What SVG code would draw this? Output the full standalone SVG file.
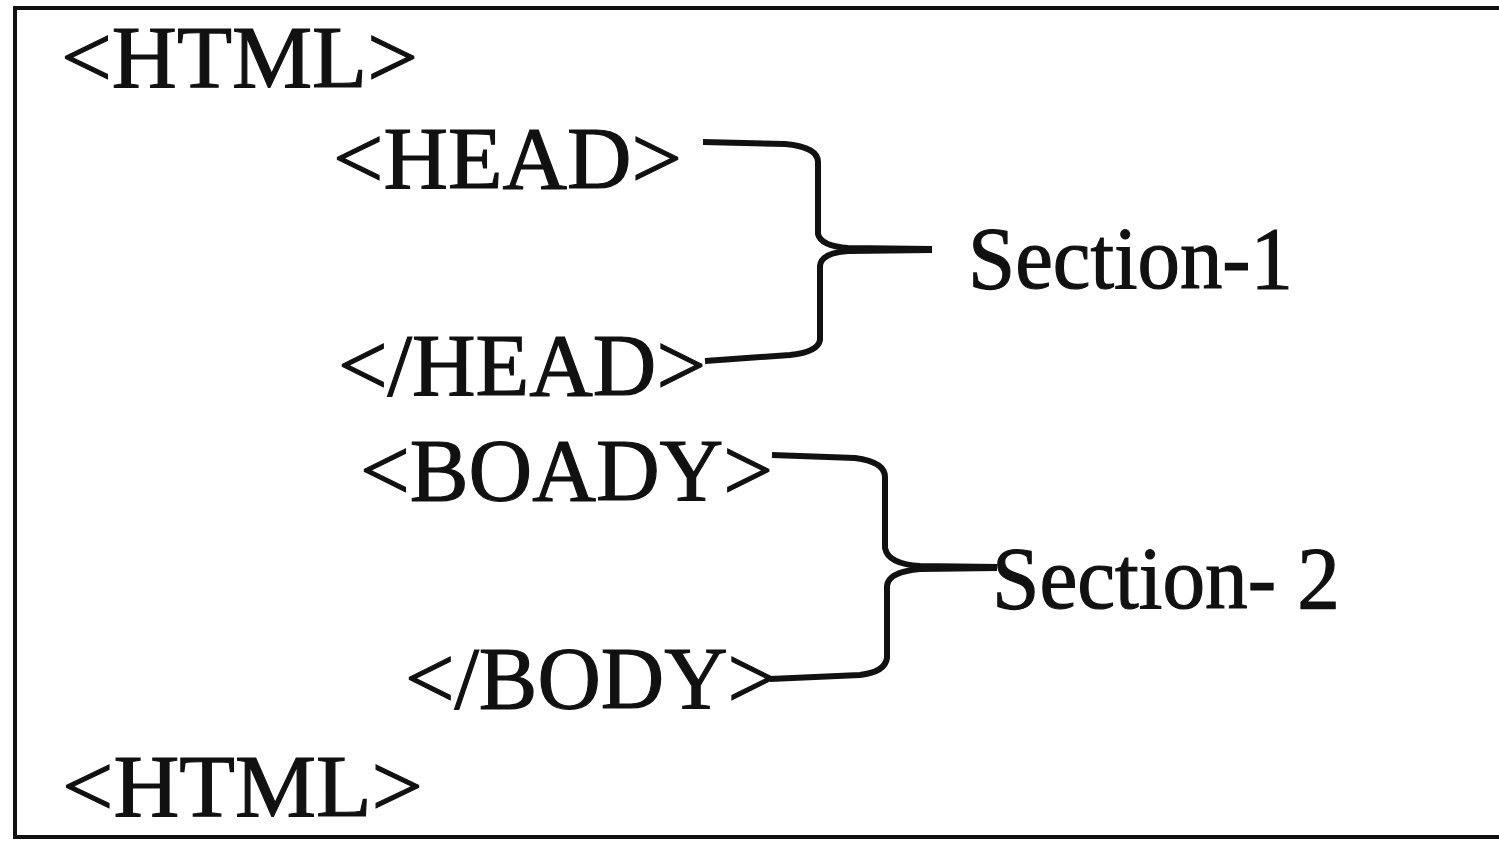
<svg xmlns="http://www.w3.org/2000/svg" width="1499" height="844" viewBox="0 0 1499 844">
<style>
.t{font-family:"Liberation Serif","Times New Roman",serif;font-size:89px;fill:#111;stroke:#111;stroke-width:1.2;}
.br{fill:none;stroke:#111;stroke-width:6;stroke-linecap:butt;stroke-linejoin:round;}
.frame{fill:none;stroke:#111;stroke-width:4;}
</style>
<rect x="0" y="0" width="1499" height="844" fill="#fff"/>
<path class="frame" d="M1499,8 L15,8 L15,837 L1499,837"/>
<g id="html-open"><text class="t" x="61" y="87" textLength="357" lengthAdjust="spacingAndGlyphs">&lt;HTML&gt;</text></g>
<g id="head-open"><text class="t" x="333" y="188" textLength="349" lengthAdjust="spacingAndGlyphs">&lt;HEAD&gt;</text></g>
<g id="head-close"><text class="t" x="338" y="395" textLength="368" lengthAdjust="spacingAndGlyphs">&lt;/HEAD&gt;</text></g>
<g id="body-open"><text class="t" x="360" y="500" textLength="413" lengthAdjust="spacingAndGlyphs">&lt;BOADY&gt;</text></g>
<g id="body-close"><text class="t" x="405" y="708" textLength="372" lengthAdjust="spacingAndGlyphs">&lt;/BODY&gt;</text></g>
<g id="html-close"><text class="t" x="62" y="816" textLength="361" lengthAdjust="spacingAndGlyphs">&lt;HTML&gt;</text></g>
<g id="section-1"><text class="t" x="968" y="288" textLength="325" lengthAdjust="spacingAndGlyphs">Section-1</text></g>
<g id="section-2"><text class="t" x="992" y="608" textLength="348" lengthAdjust="spacingAndGlyphs">Section- 2</text></g>
<g id="connectors">
<path class="br" d="M703,142 L785,144 Q818,147 818,162 L818,234 Q821,246 848,248 L932,249"/>
<path class="br" d="M932,250 L848,251 Q821,253 820,266 L820,340 Q818,352 790,355 L705,361"/>
<path class="br" d="M772,455 L855,458 Q885,462 885,477 L885,548 Q888,564 920,566 L997,567"/>
<path class="br" d="M997,568 L920,569 Q888,572 887,586 L887,658 Q885,672 860,675 L770,679"/>
</g>
</svg>
